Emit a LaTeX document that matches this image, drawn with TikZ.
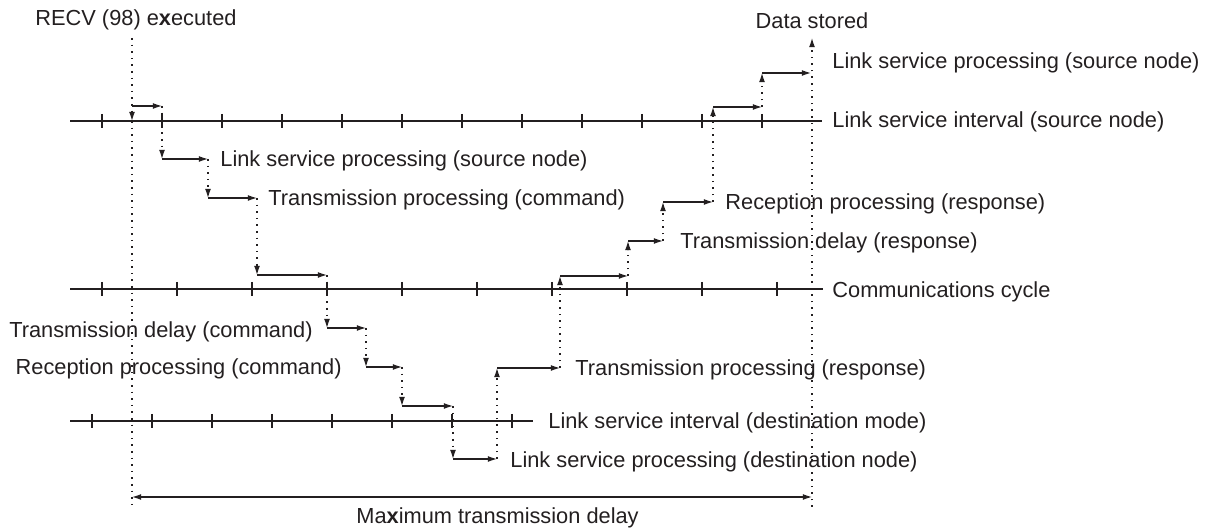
\documentclass[tikz,border=0pt]{standalone}
\usepackage{fontspec}
\setmainfont{Liberation Sans}
\usepackage{tikz}
\usetikzlibrary{arrows.meta}
\usepackage{xcolor}
\definecolor{ink}{HTML}{231F20}

\tikzset{
  lbl/.style={text=ink, inner sep=0pt, font=\fontsize{10.9}{13}\selectfont},
  axis/.style={draw=ink, line width=0.6pt},
  proc/.style={draw=ink, line width=0.6pt, -{Latex[length=4.6pt,width=3pt]}},
  pass/.style={draw=ink, line width=0.6pt, dash pattern=on 0.8pt off 2.5pt, -{Latex[length=4.6pt,width=3pt]}},
  mark line/.style={draw=ink, line width=0.6pt, dash pattern=on 0.8pt off 2.5pt}
}

\begin{document}
\begin{tikzpicture}[x=0.5pt, y=-0.5pt]
\useasboundingbox (0,0) rectangle (1215,528);

% time axes
\draw[axis] (70,121) -- (822,121);
\foreach \t in {102,162,...,762} \draw[axis] (\t,114) -- (\t,128);
\draw[axis] (70,289) -- (823,289);
\foreach \t in {102,177,...,777} \draw[axis] (\t,282) -- (\t,296);
\draw[axis] (70,421) -- (533,421);
\foreach \t in {92,152,...,512} \draw[axis] (\t,414) -- (\t,428);

% start and end marks
\coordinate (t0) at (132,38);
\coordinate (t1) at (132,121);
\coordinate (t2) at (132,507);
\coordinate (u0) at (812,507);
\coordinate (u1) at (812,38);
\draw[pass] (t0) -- (t1);
\draw[mark line] (t1) -- (t2);
\draw[pass] (u0) -- (u1);

% processing staircase
\coordinate (r0) at (132,106);
\coordinate (r1) at (162,106);
\coordinate (r2) at (162,159);
\coordinate (r3) at (208,159);
\coordinate (r4) at (208,198);
\coordinate (r5) at (257,198);
\coordinate (r6) at (257,275);
\coordinate (r7) at (327,275);
\coordinate (r8) at (327,328);
\coordinate (r9) at (366,328);
\coordinate (r10) at (366,367);
\coordinate (r11) at (402,367);
\coordinate (r12) at (402,406);
\coordinate (r13) at (453,406);
\coordinate (r14) at (453,459);
\coordinate (r15) at (497,459);
\coordinate (r16) at (497,368);
\coordinate (r17) at (560,368);
\coordinate (r18) at (560,276);
\coordinate (r19) at (628,276);
\coordinate (r20) at (628,241);
\coordinate (r21) at (663,241);
\coordinate (r22) at (663,202);
\coordinate (r23) at (713,202);
\coordinate (r24) at (713,107);
\coordinate (r25) at (762,107);
\coordinate (r26) at (762,73);
\coordinate (r27) at (811,73);
\foreach \i [evaluate=\i as \j using int(\i+1)] in {0,2,...,26}
  \draw[proc] (r\i) -- (r\j);
\foreach \i [evaluate=\i as \j using int(\i+1)] in {1,3,...,25}
  \draw[pass] (r\i) -- (r\j);

% maximum delay
\coordinate (d0) at (132,497);
\coordinate (d1) at (812,497);
\draw[proc, {Latex[length=4.6pt,width=3pt]}-{Latex[length=4.6pt,width=3pt]}] (d0) -- (d1);

% labels
\node[lbl, anchor=west] (recv) at (35,20) {RECV (98) e\textbf{x}ecuted};
\node[lbl] (stored) at (812,21) {Data stored};
\node[lbl, anchor=west] (lsp end) at (832,63) {Link service processing (source node)};
\node[lbl, anchor=west] (lsi src) at (832,122) {Link service interval (source node)};
\node[lbl, anchor=west] (lsp src) at (220,161) {Link service processing (source node)};
\node[lbl, anchor=west] (tp cmd) at (268,200) {Transmission processing (command)};
\node[lbl, anchor=west] (rp rsp) at (725,204) {Reception processing (response)};
\node[lbl, anchor=west] (td rsp) at (680,243) {Transmission delay (response)};
\node[lbl, anchor=west] (comm) at (832,292) {Communications cycle};
\node[lbl, anchor=east] (td cmd) at (313,332) {Transmission delay (command)};
\node[lbl, anchor=east] (rp cmd) at (342,369) {Reception processing (command)};
\node[lbl, anchor=west] (tp rsp) at (575,370) {Transmission processing (response)};
\node[lbl, anchor=west] (lsi dst) at (548,423) {Link service interval (destination mode)};
\node[lbl, anchor=west] (lsp dst) at (510,462) {Link service processing (destination node)};
\node[lbl, anchor=west] (maxd) at (356,518) {Ma\textbf{x}imum transmission delay};
\end{tikzpicture}
\end{document}
